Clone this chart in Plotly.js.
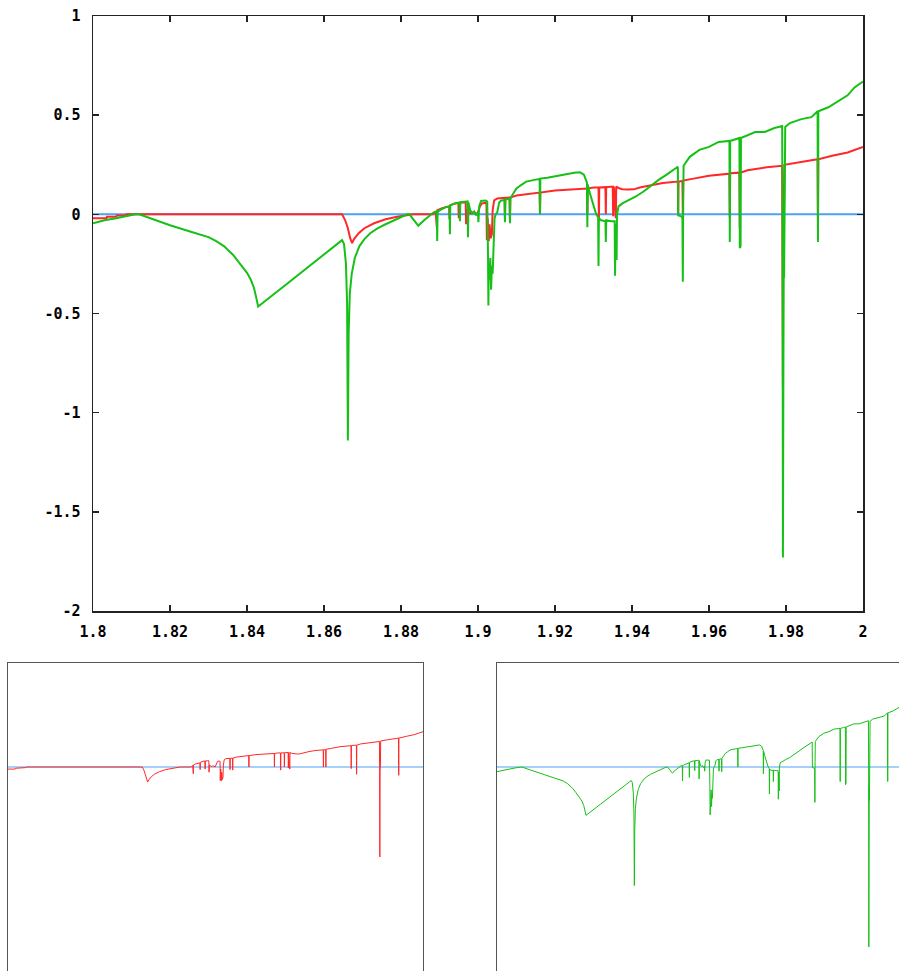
<!DOCTYPE html>
<html>
<head>
<meta charset="utf-8">
<script src="https://cdn.plot.ly/plotly-3.0.1.min.js"></script>
<style>
  html, body { margin: 0; padding: 0; background: #fff; }
  #chart { width: 899px; height: 971px; }
</style>
</head>
<body>
<div id="chart"></div>
<script>
// Axis ticks
const xTickVals = [1.8, 1.82, 1.84, 1.86, 1.88, 1.9, 1.92, 1.94, 1.96, 1.98, 2];
const xTickText = ['1.8', '1.82', '1.84', '1.86', '1.88', '1.9', '1.92', '1.94', '1.96', '1.98', '2'];
const yTickVals = [-2, -1.5, -1, -0.5, 0, 0.5, 1];
const yTickText = ['-2', '-1.5', '-1', '-0.5', '0', '0.5', '1'];

// Reference level
const baseX = [1.8, 2.0];
const baseY = [0, 0];

// Red series
const redX = [
  1.8000, 1.8035, 1.8036, 1.8060, 1.8062, 1.8085, 1.8087, 1.8647,
  1.8655, 1.8662, 1.8668, 1.8673, 1.8678, 1.8690, 1.8705, 1.8730, 1.8760, 1.8790, 1.8815, 1.8830,
  1.8883, 1.8890, 1.8893, 1.8894, 1.8905, 1.8925, 1.8926, 1.8927, 1.8940,
  1.8949, 1.8950, 1.8951, 1.8962, 1.8968, 1.8969, 1.8970, 1.8980, 1.8990, 1.8998,
  1.9005, 1.9010, 1.9020, 1.9022, 1.9023, 1.9025, 1.9028, 1.9030, 1.9033, 1.9036, 1.9038,
  1.9042, 1.9050, 1.9069, 1.9070, 1.9071, 1.9082, 1.9083, 1.9084,
  1.9100, 1.9130, 1.9160, 1.9161, 1.9162, 1.9200, 1.9250, 1.9283, 1.9284, 1.9285,
  1.9300, 1.9313, 1.9314, 1.9315, 1.9331, 1.9332, 1.9333, 1.9350, 1.9351, 1.9353, 1.9358, 1.9359,
  1.9365, 1.9375, 1.9390, 1.9405, 1.9420, 1.9450, 1.9480,
  1.9519, 1.9520, 1.9521, 1.9531, 1.9532, 1.9533,
  1.9560, 1.9600, 1.9653, 1.9654, 1.9655, 1.9679, 1.9680, 1.9681,
  1.9700, 1.9750, 1.9790, 1.9791, 1.9792, 1.9793, 1.9795, 1.9796,
  1.9830, 1.9882, 1.9883, 1.9884, 1.9920, 1.9960, 2.0000
];
const redY = [
  -0.020, -0.020, -0.012, -0.012, -0.006, -0.006, 0.000, 0.000,
  -0.030, -0.070, -0.120, -0.145, -0.125, -0.095, -0.070, -0.045, -0.025, -0.012, -0.005, 0.000,
  0.000, 0.015, -0.065, 0.020, 0.030, 0.040, -0.025, 0.045, 0.055,
  0.058, -0.020, 0.058, 0.060, 0.060, -0.050, 0.020, 0.005, 0.010, 0.000,
  0.040, 0.055, 0.058, 0.050, -0.130, -0.020, -0.135, -0.050, -0.120, -0.100, 0.020,
  0.070, 0.080, 0.083, -0.025, 0.083, 0.085, -0.030, 0.085,
  0.095, 0.102, 0.110, 0.000, 0.110, 0.120, 0.128, 0.130, 0.000, 0.130,
  0.135, 0.135, -0.030, 0.135, 0.137, 0.000, 0.137, 0.140, -0.010, 0.140, -0.020, 0.140,
  0.133, 0.127, 0.125, 0.126, 0.135, 0.148, 0.158,
  0.165, 0.000, 0.165, 0.168, 0.000, 0.170,
  0.180, 0.195, 0.205, -0.015, 0.207, 0.210, -0.070, 0.210,
  0.222, 0.237, 0.245, -0.040, -0.865, -0.040, 0.030, 0.250,
  0.262, 0.278, -0.080, 0.278, 0.295, 0.312, 0.340
];

// Green series
const greenX = [
  1.8000, 1.8030, 1.8060, 1.8090, 1.8110, 1.8120, 1.8160, 1.8200, 1.8250, 1.8300,
  1.8320, 1.8340, 1.8364, 1.8380, 1.8400, 1.8410, 1.8418, 1.8424, 1.8429,
  1.8500, 1.8580, 1.8647, 1.8652, 1.8657, 1.8660, 1.8662, 1.8664, 1.8667, 1.8672,
  1.8680, 1.8692, 1.8705, 1.8720, 1.8740, 1.8760, 1.8780, 1.8800, 1.8816, 1.8822,
  1.8835, 1.8845, 1.8860, 1.8875, 1.8885, 1.8893, 1.8894, 1.8895, 1.8900, 1.8915,
  1.8926, 1.8927, 1.8928, 1.8940, 1.8952, 1.8953, 1.8954, 1.8965, 1.8973, 1.8974, 1.8975,
  1.8980, 1.8985, 1.8990, 1.8995, 1.9000, 1.9001, 1.9003, 1.9008, 1.9020, 1.9024,
  1.9026, 1.9027, 1.9028, 1.9030, 1.9032, 1.9034, 1.9036, 1.9038, 1.9040, 1.9043,
  1.9046, 1.9050, 1.9055, 1.9060, 1.9069, 1.9070, 1.9071, 1.9082, 1.9083, 1.9084,
  1.9090, 1.9100, 1.9110, 1.9125, 1.9150, 1.9160, 1.9161, 1.9162, 1.9180, 1.9200,
  1.9230, 1.9250, 1.9265, 1.9275, 1.9280, 1.9283, 1.9284, 1.9285, 1.9290, 1.9300,
  1.9307, 1.9312, 1.9313, 1.9314, 1.9320, 1.9331, 1.9332, 1.9333, 1.9345, 1.9355,
  1.9356, 1.9357, 1.9360, 1.9361, 1.9365, 1.9375, 1.9390, 1.9410, 1.9430, 1.9450,
  1.9470, 1.9490, 1.9510, 1.9519, 1.9520, 1.9528, 1.9531, 1.9532, 1.9533, 1.9534,
  1.9550, 1.9575, 1.9600, 1.9625, 1.9653, 1.9654, 1.9655, 1.9670, 1.9679, 1.9680,
  1.9682, 1.9683, 1.9700, 1.9720, 1.9745, 1.9770, 1.9790, 1.9791, 1.9792, 1.9793,
  1.9794, 1.9795, 1.9796, 1.9798, 1.9810, 1.9840, 1.9866, 1.9882, 1.9883, 1.9884,
  1.9910, 1.9935, 1.9960, 1.9978, 2.0000
];
const greenY = [
  -0.045, -0.030, -0.020, -0.008, 0.000, 0.000, -0.028, -0.055, -0.085, -0.115,
  -0.135, -0.160, -0.205, -0.245, -0.295, -0.330, -0.370, -0.420, -0.465,
  -0.356, -0.235, -0.130, -0.150, -0.250, -0.450, -1.140, -0.600, -0.400, -0.300,
  -0.220, -0.160, -0.125, -0.095, -0.070, -0.050, -0.032, -0.015, 0.000, 0.000,
  -0.035, -0.058, -0.030, -0.003, 0.010, 0.015, -0.135, 0.010, 0.020, 0.035,
  0.040, -0.100, 0.045, 0.055, 0.060, -0.035, 0.060, 0.063, 0.065, -0.115, 0.060,
  0.020, 0.005, 0.015, -0.005, 0.010, -0.040, 0.040, 0.068, 0.070, 0.065,
  -0.200, -0.460, -0.250, -0.330, -0.220, -0.380, -0.260, -0.300, -0.150, -0.020,
  0.000, 0.010, 0.060, 0.070, 0.072, -0.040, 0.075, 0.078, -0.045, 0.080,
  0.100, 0.130, 0.145, 0.165, 0.175, 0.178, 0.000, 0.180, 0.185, 0.192,
  0.205, 0.210, 0.212, 0.200, 0.175, 0.160, -0.065, 0.150, 0.110, 0.040,
  0.000, -0.015, -0.260, -0.020, -0.030, -0.035, -0.140, -0.030, -0.035, -0.035,
  -0.310, -0.050, -0.230, 0.000, 0.040, 0.055, 0.070, 0.090, 0.115, 0.145,
  0.175, 0.200, 0.225, 0.240, -0.005, -0.010, -0.020, -0.340, 0.050, 0.245,
  0.290, 0.325, 0.340, 0.365, 0.370, -0.140, 0.370, 0.380, 0.385, -0.170,
  -0.160, 0.385, 0.400, 0.415, 0.415, 0.435, 0.445, -0.010, -1.730, -0.330,
  -0.200, -0.320, 0.050, 0.440, 0.460, 0.480, 0.490, 0.520, -0.140, 0.520,
  0.540, 0.570, 0.600, 0.640, 0.670
];

const BLUE = '#4ea2f4';
const RED = '#ff2828';
const GREEN = '#16c016';

const traces = [
  // main panel
  {x: baseX, y: baseY, xaxis: 'x', yaxis: 'y', mode: 'lines', line: {color: BLUE, width: 2}},
  {x: redX, y: redY, xaxis: 'x', yaxis: 'y', mode: 'lines', line: {color: RED, width: 2}},
  {x: greenX, y: greenY, xaxis: 'x', yaxis: 'y', mode: 'lines', line: {color: GREEN, width: 2}},
  // lower-left panel: red alone
  {x: baseX, y: baseY, xaxis: 'x2', yaxis: 'y2', mode: 'lines', line: {color: BLUE, width: 1}},
  {x: redX, y: redY, xaxis: 'x2', yaxis: 'y2', mode: 'lines', line: {color: RED, width: 1}},
  // lower-right panel: green alone
  {x: baseX, y: baseY, xaxis: 'x3', yaxis: 'y3', mode: 'lines', line: {color: BLUE, width: 1}},
  {x: greenX, y: greenY, xaxis: 'x3', yaxis: 'y3', mode: 'lines', line: {color: GREEN, width: 1}}
];

const tickFont = {family: 'DejaVu Sans Mono', size: 15, color: '#000', weight: 'bold'};
const frame = '#222';
const panelFrame = '#555';

const layout = {
  width: 899,
  height: 971,
  margin: {l: 8, r: 0, t: 16, b: 0, pad: 0},
  paper_bgcolor: '#fff',
  plot_bgcolor: 'rgba(0,0,0,0)',
  showlegend: false,
  xaxis: {
    domain: [0.09540, 0.95960], range: [1.8, 2.0], anchor: 'y',
    tickvals: xTickVals, ticktext: xTickText,
    ticks: 'inside', ticklen: 6, tickwidth: 1.5, tickcolor: frame,
    showline: true, linecolor: frame, linewidth: 1.5, mirror: 'ticks',
    showgrid: false, zeroline: false, tickfont: tickFont, ticklabelstandoff: 6
  },
  yaxis: {
    domain: [0.37696, 1.0], range: [-2, 1], anchor: 'x',
    tickvals: yTickVals, ticktext: yTickText,
    ticks: 'inside', ticklen: 6, tickwidth: 1.5, tickcolor: frame,
    showline: true, linecolor: frame, linewidth: 1.5, mirror: 'ticks',
    showgrid: false, zeroline: false, tickfont: tickFont, ticklabelstandoff: 8
  },
  xaxis2: {
    domain: [0, 0.46577], range: [1.8, 2.0], anchor: 'y2', side: 'top',
    showline: true, linecolor: panelFrame, linewidth: 1, mirror: false,
    showticklabels: false, ticks: '', showgrid: false, zeroline: false
  },
  yaxis2: {
    domain: [0, 0.32251], range: [-1.9615, 1], anchor: 'x2',
    showline: true, linecolor: panelFrame, linewidth: 1, mirror: true,
    showticklabels: false, ticks: '', showgrid: false, zeroline: false
  },
  xaxis3: {
    domain: [0.54882, 1.0], range: [1.8, 1.99374], anchor: 'y3', side: 'top',
    showline: true, linecolor: panelFrame, linewidth: 1, mirror: false,
    showticklabels: false, ticks: '', showgrid: false, zeroline: false
  },
  yaxis3: {
    domain: [0, 0.32251], range: [-1.9615, 1], anchor: 'x3',
    showline: true, linecolor: panelFrame, linewidth: 1, mirror: false,
    showticklabels: false, ticks: '', showgrid: false, zeroline: false
  }
};

Plotly.newPlot('chart', traces, layout, {staticPlot: true, displayModeBar: false});
</script>
</body>
</html>
